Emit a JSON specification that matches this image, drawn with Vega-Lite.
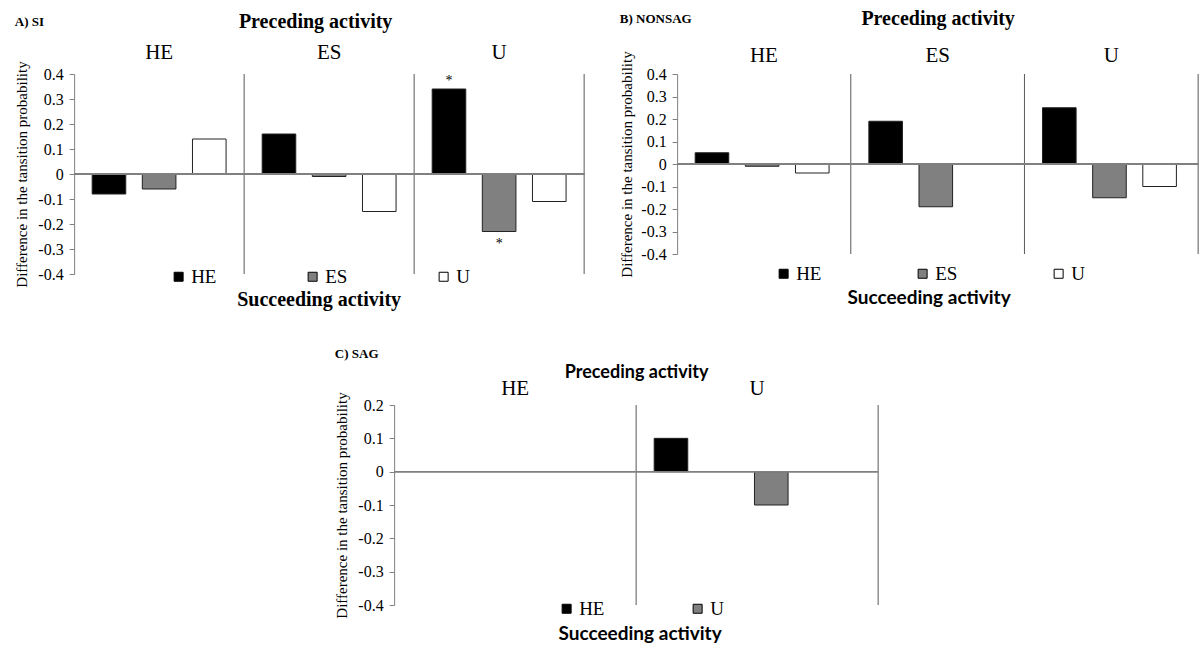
{
  "$schema": "https://vega.github.io/schema/vega-lite/v6.json",
  "padding": {"left": 14, "top": 8, "right": 0, "bottom": 0},
  "background": "#ffffff",
  "config": {"view": {"stroke": null}, "axis": {"grid": false}, "mark": {"color": "#000000"}},
  "spacing": 38,
  "center": true,
  "resolve": {"scale": {"fill": "independent"}, "legend": {"fill": "independent"}},
  "vconcat": [
    {
      "spacing": 34,
      "resolve": {"scale": {"fill": "independent"}, "legend": {"fill": "independent"}},
      "hconcat": [
        {
          "width": 510,
          "height": 200,
          "title": {"text": "A) SI", "anchor": "start", "frame": "bounds", "font": "Liberation Serif", "fontSize": 13, "fontWeight": "bold", "color": "#000000", "offset": -18},
          "data": {"values": [
            {"prec": "HE", "succ": "HE", "value": -0.08, "sig": ""},
            {"prec": "HE", "succ": "ES", "value": -0.06, "sig": ""},
            {"prec": "HE", "succ": "U", "value": 0.14, "sig": ""},
            {"prec": "ES", "succ": "HE", "value": 0.16, "sig": ""},
            {"prec": "ES", "succ": "ES", "value": -0.01, "sig": ""},
            {"prec": "ES", "succ": "U", "value": -0.15, "sig": ""},
            {"prec": "U", "succ": "HE", "value": 0.34, "sig": "*"},
            {"prec": "U", "succ": "ES", "value": -0.23, "sig": "*"},
            {"prec": "U", "succ": "U", "value": -0.11, "sig": ""}
          ]},
          "layer": [
            {
              "mark": {"type": "bar", "stroke": "#222222", "strokeWidth": 1},
              "encoding": {
                "x": {"field": "prec", "type": "nominal", "title": "Preceding activity",
                  "scale": {"domain": ["HE", "ES", "U"], "paddingInner": 0, "paddingOuter": 0},
                  "axis": {"orient": "top", "titleFont": "Liberation Serif", "titleFontSize": 20, "titleFontWeight": "bold", "titleColor": "#000000", "titlePadding": 10, "titleX": 241,
                    "labelFont": "Liberation Serif", "labelFontSize": 21, "labelColor": "#000000", "labelAngle": 0, "labelPadding": 12, "ticks": false, "tickSize": 0, "domain": false}},
                "xOffset": {"field": "succ", "type": "nominal", "scale": {"domain": ["HE", "ES", "U"], "paddingInner": 0.33, "paddingOuter": 0.36}},
                "y": {"field": "value", "type": "quantitative", "title": "Difference in the tansition probability",
                  "scale": {"domain": [-0.4, 0.4], "nice": false},
                  "axis": {"values": [-0.4, -0.3, -0.2, -0.1, 0, 0.1, 0.2, 0.3, 0.4], "tickCount": 20, "labelOverlap": false,
                    "labelExpr": "datum.value < 0 ? '-' + format(-datum.value, '.1f') : (datum.value == 0 ? '0' : format(datum.value, '.1f'))",
                    "titleFont": "Liberation Serif", "titleFontSize": 15, "titleFontWeight": "normal", "titleColor": "#000000", "titlePadding": 8,
                    "labelFont": "Liberation Serif", "labelFontSize": 16, "labelColor": "#000000", "tickColor": "#808080", "domainColor": "#808080", "tickSize": 5, "labelPadding": 6}},
                "fill": {"field": "succ", "type": "nominal", "scale": {"domain": ["HE", "ES", "U"], "range": ["#000000", "#808080", "#ffffff"]},
                  "legend": {"orient": "none", "legendX": 95, "legendY": 193, "direction": "horizontal", "title": "Succeeding activity", "titleOrient": "bottom", "titleAnchor": "middle",
                    "titleFont": "Liberation Serif", "titleFontSize": 20, "titleFontWeight": "bold", "titleColor": "#000000", "titlePadding": 3,
                    "labelFont": "Liberation Serif", "labelFontSize": 19, "labelColor": "#000000", "symbolType": "square", "symbolSize": 81,
                    "symbolStrokeColor": "#000000", "symbolStrokeWidth": 1, "columnPadding": 86, "labelOffset": 3}}
              }
            },
            {
              "data": {"values": [{"prec": "HE"}, {"prec": "ES"}, {"prec": "U"}]},
              "mark": {"type": "rule", "color": "#595959", "strokeWidth": 1},
              "encoding": {"x": {"field": "prec", "type": "nominal", "title": "Preceding activity", "bandPosition": 1}}
            },
            {
              "mark": {"type": "rule", "color": "#808080", "strokeWidth": 1.5},
              "encoding": {"y": {"datum": 0, "type": "quantitative", "title": "Difference in the tansition probability"}}
            },
            {
              "transform": [{"filter": "datum.sig != '' && datum.value > 0"}],
              "mark": {"type": "text", "baseline": "bottom", "dy": -1, "font": "Liberation Serif", "fontSize": 14, "color": "#000000", "fill": "#000000"},
              "encoding": {
                "x": {"field": "prec", "type": "nominal", "title": "Preceding activity"},
                "xOffset": {"field": "succ", "type": "nominal"},
                "y": {"field": "value", "type": "quantitative", "title": "Difference in the tansition probability"},
                "text": {"field": "sig"}
              }
            },
            {
              "transform": [{"filter": "datum.sig != '' && datum.value < 0"}],
              "mark": {"type": "text", "baseline": "top", "dy": 5, "font": "Liberation Serif", "fontSize": 14, "color": "#000000", "fill": "#000000"},
              "encoding": {
                "x": {"field": "prec", "type": "nominal", "title": "Preceding activity"},
                "xOffset": {"field": "succ", "type": "nominal"},
                "y": {"field": "value", "type": "quantitative", "title": "Difference in the tansition probability"},
                "text": {"field": "sig"}
              }
            }
          ]
        },
        {
          "width": 521,
          "height": 180,
          "title": {"text": "B) NONSAG", "anchor": "start", "frame": "bounds", "font": "Liberation Serif", "fontSize": 13, "fontWeight": "bold", "color": "#000000", "offset": -18},
          "data": {"values": [
            {"prec": "HE", "succ": "HE", "value": 0.05},
            {"prec": "HE", "succ": "ES", "value": -0.01},
            {"prec": "HE", "succ": "U", "value": -0.04},
            {"prec": "ES", "succ": "HE", "value": 0.19},
            {"prec": "ES", "succ": "ES", "value": -0.19},
            {"prec": "U", "succ": "HE", "value": 0.25},
            {"prec": "U", "succ": "ES", "value": -0.15},
            {"prec": "U", "succ": "U", "value": -0.10}
          ]},
          "layer": [
            {
              "mark": {"type": "bar", "stroke": "#222222", "strokeWidth": 1},
              "encoding": {
                "x": {"field": "prec", "type": "nominal", "title": "Preceding activity",
                  "scale": {"domain": ["HE", "ES", "U"], "paddingInner": 0, "paddingOuter": 0},
                  "axis": {"orient": "top", "titleFont": "Liberation Serif", "titleFontSize": 20, "titleFontWeight": "bold", "titleColor": "#000000", "titlePadding": 16,
                    "labelFont": "Liberation Serif", "labelFontSize": 21, "labelColor": "#000000", "labelAngle": 0, "labelPadding": 9, "ticks": false, "tickSize": 0, "domain": false}},
                "xOffset": {"field": "succ", "type": "nominal", "scale": {"domain": ["HE", "ES", "U"], "paddingInner": 0.33, "paddingOuter": 0.36}},
                "y": {"field": "value", "type": "quantitative", "title": "Difference in the tansition probability",
                  "scale": {"domain": [-0.4, 0.4], "nice": false},
                  "axis": {"values": [-0.4, -0.3, -0.2, -0.1, 0, 0.1, 0.2, 0.3, 0.4], "tickCount": 20, "labelOverlap": false,
                    "labelExpr": "datum.value < 0 ? '-' + format(-datum.value, '.1f') : (datum.value == 0 ? '0' : format(datum.value, '.1f'))",
                    "titleFont": "Liberation Serif", "titleFontSize": 15, "titleFontWeight": "normal", "titleColor": "#000000", "titlePadding": 6,
                    "labelFont": "Liberation Serif", "labelFontSize": 16, "labelColor": "#000000", "tickColor": "#808080", "domainColor": "#808080", "tickSize": 5, "labelPadding": 6}},
                "fill": {"field": "succ", "type": "nominal", "scale": {"domain": ["HE", "ES", "U"], "range": ["#000000", "#808080", "#ffffff"]},
                  "legend": {"orient": "none", "legendX": 97, "legendY": 190, "direction": "horizontal", "title": "Succeeding activity", "titleOrient": "bottom", "titleAnchor": "middle",
                    "titleFont": "Lato", "titleFontSize": 19, "titleFontWeight": "bold", "titleColor": "#000000", "titlePadding": 5,
                    "labelFont": "Liberation Serif", "labelFontSize": 19, "labelColor": "#000000", "symbolType": "square", "symbolSize": 81,
                    "symbolStrokeColor": "#000000", "symbolStrokeWidth": 1, "columnPadding": 91, "labelOffset": 3}}
              }
            },
            {
              "data": {"values": [{"prec": "HE"}, {"prec": "ES"}, {"prec": "U"}]},
              "mark": {"type": "rule", "color": "#595959", "strokeWidth": 1},
              "encoding": {"x": {"field": "prec", "type": "nominal", "title": "Preceding activity", "bandPosition": 1}}
            },
            {
              "mark": {"type": "rule", "color": "#808080", "strokeWidth": 1.5},
              "encoding": {"y": {"datum": 0, "type": "quantitative", "title": "Difference in the tansition probability"}}
            }
          ]
        }
      ]
    },
    {
      "width": 484,
      "height": 200,
      "title": {"text": "C) SAG", "anchor": "start", "frame": "bounds", "font": "Liberation Serif", "fontSize": 13, "fontWeight": "bold", "color": "#000000", "offset": 2},
      "data": {"values": [
        {"prec": "U", "succ": "HE", "value": 0.10},
        {"prec": "U", "succ": "U", "value": -0.10}
      ]},
      "layer": [
        {
          "mark": {"type": "bar", "stroke": "#222222", "strokeWidth": 1},
          "encoding": {
            "x": {"field": "prec", "type": "nominal", "title": "Preceding activity",
              "scale": {"domain": ["HE", "U"], "paddingInner": 0, "paddingOuter": 0},
              "axis": {"orient": "top", "titleFont": "Lato", "titleFontSize": 18, "titleFontWeight": "bold", "titleColor": "#000000", "titlePadding": -4,
                "labelFont": "Liberation Serif", "labelFontSize": 21, "labelColor": "#000000", "labelAngle": 0, "labelPadding": 7, "ticks": false, "tickSize": 0, "domain": false}},
            "xOffset": {"field": "succ", "type": "nominal", "scale": {"domain": ["HE", "U"], "paddingInner": 0.34, "paddingOuter": 0.33}},
            "y": {"field": "value", "type": "quantitative", "title": "Difference in the tansition probability",
              "scale": {"domain": [-0.4, 0.2], "nice": false},
              "axis": {"values": [-0.4, -0.3, -0.2, -0.1, 0, 0.1, 0.2], "tickCount": 20, "labelOverlap": false,
                "labelExpr": "datum.value < 0 ? '-' + format(-datum.value, '.1f') : (datum.value == 0 ? '0' : format(datum.value, '.1f'))",
                "titleFont": "Liberation Serif", "titleFontSize": 15, "titleFontWeight": "normal", "titleColor": "#000000", "titlePadding": 8,
                "labelFont": "Liberation Serif", "labelFontSize": 16, "labelColor": "#000000", "tickColor": "#808080", "domainColor": "#808080", "tickSize": 5, "labelPadding": 6}},
            "fill": {"field": "succ", "type": "nominal", "scale": {"domain": ["HE", "U"], "range": ["#000000", "#808080"]},
              "legend": {"orient": "none", "legendX": 163, "legendY": 194, "direction": "horizontal", "title": "Succeeding activity", "titleOrient": "bottom", "titleAnchor": "middle",
                "titleFont": "Lato", "titleFontSize": 19, "titleFontWeight": "bold", "titleColor": "#000000", "titlePadding": 6,
                "labelFont": "Liberation Serif", "labelFontSize": 19, "labelColor": "#000000", "symbolType": "square", "symbolSize": 81,
                "symbolStrokeColor": "#000000", "symbolStrokeWidth": 1, "columnPadding": 83, "labelOffset": 3}}
          }
        },
        {
          "data": {"values": [{"prec": "HE"}, {"prec": "U"}]},
          "mark": {"type": "rule", "color": "#595959", "strokeWidth": 1},
          "encoding": {"x": {"field": "prec", "type": "nominal", "title": "Preceding activity", "bandPosition": 1}}
        },
        {
          "mark": {"type": "rule", "color": "#808080", "strokeWidth": 1.5},
          "encoding": {"y": {"datum": 0, "type": "quantitative", "title": "Difference in the tansition probability"}}
        }
      ]
    }
  ]
}
